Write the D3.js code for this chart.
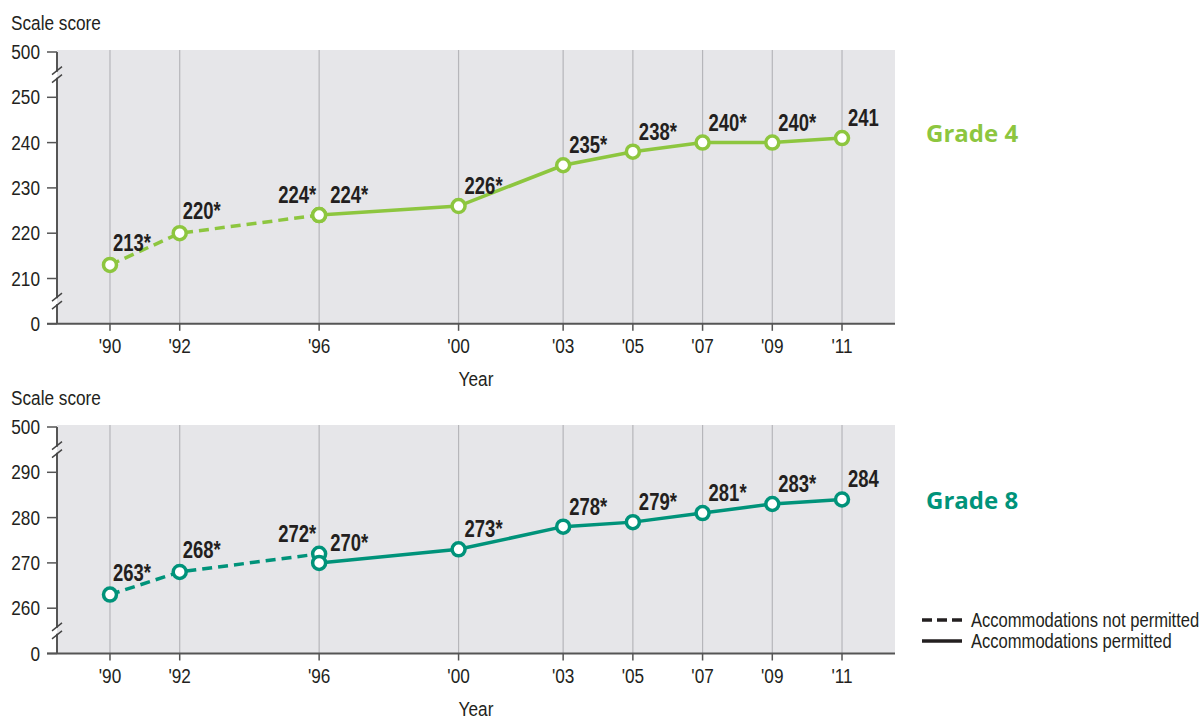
<!DOCTYPE html>
<html>
<head>
<meta charset="utf-8">
<script src="https://cdn.jsdelivr.net/npm/d3@7/dist/d3.min.js"></script>
<style>
  body { margin: 0; background: #fff; }
  svg text { font-family: "Liberation Sans", Arial, sans-serif; fill: #231f20; }
  svg text.grade { font-family: "Open Sans", "Noto Sans", sans-serif; font-weight: 700; }
</style>
</head>
<body>
<div id="chart"></div>
<script>
// years + tick labels
let years = [1990, 1992, 1996, 2000, 2003, 2005, 2007, 2009, 2011];
let yearLabels = ["'90", "'92", "'96", "'00", "'03", "'05", "'07", "'09", "'11"];

// grade 4
let g4YearsNot = [1990, 1992, 1996];
let g4ValuesNot = [213, 220, 224];
let g4LabelsNot = ["213*", "220*", "224*"];
let g4YearsPerm = [1996, 2000, 2003, 2005, 2007, 2009, 2011];
let g4ValuesPerm = [224, 226, 235, 238, 240, 240, 241];
let g4LabelsPerm = ["224*", "226*", "235*", "238*", "240*", "240*", "241"];
let g4Ticks = [0, 210, 220, 230, 240, 250, 500];

// grade 8
let g8YearsNot = [1990, 1992, 1996];
let g8ValuesNot = [263, 268, 272];
let g8LabelsNot = ["263*", "268*", "272*"];
let g8YearsPerm = [1996, 2000, 2003, 2005, 2007, 2009, 2011];
let g8ValuesPerm = [270, 273, 278, 279, 281, 283, 284];
let g8LabelsPerm = ["270*", "273*", "278*", "279*", "281*", "283*", "284"];
let g8Ticks = [0, 260, 270, 280, 290, 500];

let width = 1202;
let height = 719;

let svg = d3.select("#chart").append("svg")
  .attr("width", width)
  .attr("height", height);

let x = d3.scaleLinear()
  .domain([1988.48, 2012.52])
  .range([57, 895]);

let pxPerUnit = 4.53;

// no condensed font here, so squeeze the text horizontally
function narrowText(parent, tx, ty, str, size, anchor, squeeze) {
  let t = parent.append("g")
    .attr("transform", "translate(" + tx + "," + ty + ") scale(" + (squeeze || 0.86) + ",1)")
    .append("text")
    .attr("font-size", size)
    .attr("text-anchor", anchor || "start")
    .text(str);
  return t;
}

function panel(opts) {
  let top = opts.top;
  let lo = opts.lo, hi = opts.hi;
  let base = top + (hi - lo + 20) * pxPerUnit; // axis (0) position
  // broken scale: 0 -> axis, lo..hi linear, 500 -> one step above hi
  let y = d3.scaleLinear()
    .domain([0, lo, hi, 500])
    .range([base, base - 10 * pxPerUnit, top + 10 * pxPerUnit, top]);

  let g = svg.append("g");

  g.append("rect")
    .attr("x", x.range()[0])
    .attr("y", top - 2)
    .attr("width", x.range()[1] - x.range()[0])
    .attr("height", base - top + 2)
    .attr("fill", "#e6e6e9");

  // vertical grid
  g.selectAll(".grid")
    .data(years)
    .enter()
    .append("line")
    .attr("x1", d => x(d)).attr("x2", d => x(d))
    .attr("y1", top - 2).attr("y2", base)
    .attr("stroke", "#b6b6ba")
    .attr("stroke-width", 1.2);

  // x axis
  g.append("line")
    .attr("x1", 47).attr("x2", x.range()[1])
    .attr("y1", base).attr("y2", base)
    .attr("stroke", "#555").attr("stroke-width", 2);

  g.selectAll(".xtick")
    .data(years)
    .enter()
    .append("line")
    .attr("x1", d => x(d)).attr("x2", d => x(d))
    .attr("y1", base).attr("y2", base + 7)
    .attr("stroke", "#555").attr("stroke-width", 1.5);

  years.forEach((d, i) => {
    narrowText(g, x(d), base + 29, yearLabels[i], 20.5, "middle", 0.84);
  });

  narrowText(g, 476, base + 62, "Year", 20.5, "middle", 0.84);

  // y axis
  let breakTop = (y(500) + y(hi)) / 2;
  let breakBot = (y(lo) + y(0)) / 2;
  let axisX = x.range()[0];

  g.append("line")
    .attr("x1", axisX).attr("x2", axisX)
    .attr("y1", y(500)).attr("y2", breakTop - 3)
    .attr("stroke", "#555").attr("stroke-width", 2);
  g.append("line")
    .attr("x1", axisX).attr("x2", axisX)
    .attr("y1", breakTop + 3).attr("y2", breakBot - 3)
    .attr("stroke", "#555").attr("stroke-width", 2);
  g.append("line")
    .attr("x1", axisX).attr("x2", axisX)
    .attr("y1", breakBot + 3).attr("y2", base)
    .attr("stroke", "#555").attr("stroke-width", 2);

  [breakTop, breakBot].forEach(b => {
    [-4, 4].forEach(o => {
      g.append("line")
        .attr("x1", axisX - 5).attr("y1", b + o + 4)
        .attr("x2", axisX + 5).attr("y2", b + o - 4)
        .attr("stroke", "#444").attr("stroke-width", 1.5);
    });
  });

  g.selectAll(".ytick")
    .data(opts.ticks)
    .enter()
    .append("line")
    .attr("x1", 47).attr("x2", axisX)
    .attr("y1", d => y(d)).attr("y2", d => y(d))
    .attr("stroke", "#555").attr("stroke-width", 1.5);

  opts.ticks.forEach(d => {
    narrowText(g, 40, y(d) + 7, d, 20.5, "end", 0.84);
  });

  narrowText(g, 11, top - 22, "Scale score", 20.5, "start", 0.84);

  // lines
  let line = d3.line()
    .x(d => x(d[0]))
    .y(d => y(d[1]));

  let notPts = d3.zip(opts.yearsNot, opts.valuesNot);
  let permPts = d3.zip(opts.yearsPerm, opts.valuesPerm);

  g.append("path")
    .datum(notPts)
    .attr("d", line)
    .attr("fill", "none")
    .attr("stroke", opts.color)
    .attr("stroke-width", 3.5)
    .attr("stroke-dasharray", "10,6");

  g.append("path")
    .datum(permPts)
    .attr("d", line)
    .attr("fill", "none")
    .attr("stroke", opts.color)
    .attr("stroke-width", 3.5);

  g.selectAll(".pt")
    .data(notPts.concat(permPts))
    .enter()
    .append("circle")
    .attr("cx", d => x(d[0]))
    .attr("cy", d => y(d[1]))
    .attr("r", 6.5)
    .attr("fill", "#fff")
    .attr("stroke", opts.color)
    .attr("stroke-width", 3.5);

  // value labels
  let lab = g.append("g");

  opts.yearsNot.forEach((yr, i) => {
    let last = i == opts.yearsNot.length - 1;
    narrowText(lab, x(yr) + (last ? -3 : 3), y(opts.valuesNot[i]) - (last ? 12 : 14),
      opts.labelsNot[i], 24, last ? "end" : "start", 0.77)
      .attr("font-weight", 700);
  });
  opts.yearsPerm.forEach((yr, i) => {
    narrowText(lab, x(yr) + (i == 0 ? 11 : 6), y(opts.valuesPerm[i]) - 12,
      opts.labelsPerm[i], 24, "start", 0.77)
      .attr("font-weight", 700);
  });

  svg.append("text")
    .attr("class", "grade")
    .attr("x", 926)
    .attr("y", opts.gradeY)
    .attr("font-size", 24)
    .style("fill", opts.color)
    .text(opts.title);
}

panel({
  top: 52, lo: 210, hi: 250, ticks: g4Ticks, color: "#8dc63f",
  yearsNot: g4YearsNot, valuesNot: g4ValuesNot, labelsNot: g4LabelsNot,
  yearsPerm: g4YearsPerm, valuesPerm: g4ValuesPerm, labelsPerm: g4LabelsPerm,
  title: "Grade 4", gradeY: 142
});

panel({
  top: 427, lo: 260, hi: 290, ticks: g8Ticks, color: "#00937a",
  yearsNot: g8YearsNot, valuesNot: g8ValuesNot, labelsNot: g8LabelsNot,
  yearsPerm: g8YearsPerm, valuesPerm: g8ValuesPerm, labelsPerm: g8LabelsPerm,
  title: "Grade 8", gradeY: 509
});

// legend
let legend = svg.append("g");
legend.append("line")
  .attr("x1", 922).attr("x2", 962)
  .attr("y1", 620).attr("y2", 620)
  .attr("stroke", "#231f20").attr("stroke-width", 3.5)
  .attr("stroke-dasharray", "10,5");
legend.append("line")
  .attr("x1", 922).attr("x2", 962)
  .attr("y1", 641).attr("y2", 641)
  .attr("stroke", "#231f20").attr("stroke-width", 3.5);
narrowText(legend, 971, 627, "Accommodations not permitted", 19.5, "start", 0.85);
narrowText(legend, 971, 648, "Accommodations permitted", 19.5, "start", 0.85);
</script>
</body>
</html>
